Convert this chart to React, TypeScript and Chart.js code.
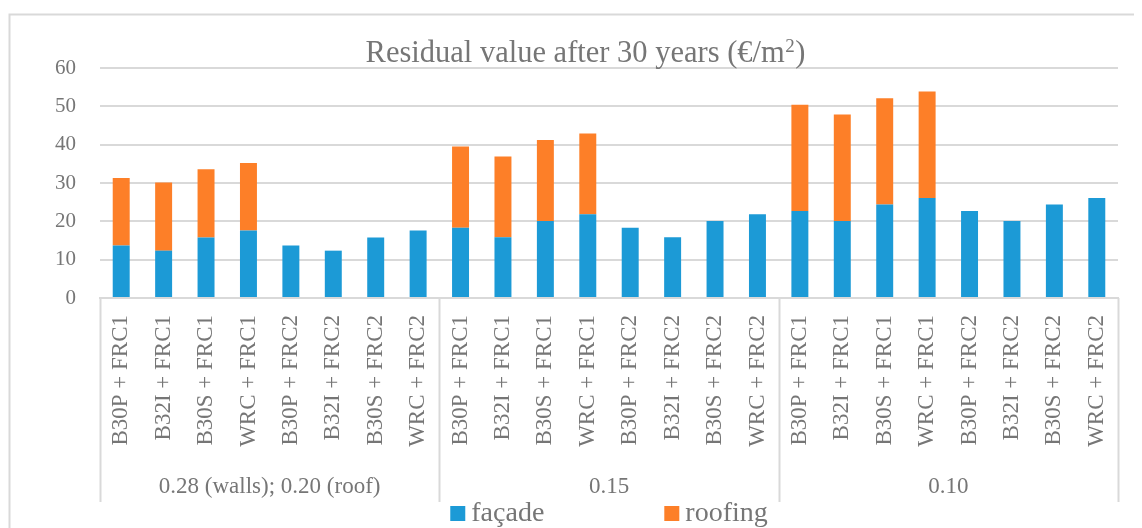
import React, { useEffect, useRef } from "react";
import { Chart, registerables } from "chart.js";

Chart.register(...registerables);

const TITLE_MAIN = "Residual value after 30 years (€/m";
const TITLE_SUP = "2";
const TITLE_END = ")";
const SYSTEMS = [
  "B30P + FRC1", "B32I + FRC1", "B30S + FRC1", "WRC + FRC1",
  "B30P + FRC2", "B32I + FRC2", "B30S + FRC2", "WRC + FRC2",
];
const GROUPS = ["0.28 (walls); 0.20 (roof)", "0.15", "0.10"];
const CATEGORIES = GROUPS.flatMap(() => SYSTEMS);

const FACADE = [
  13.7, 12.35, 15.8, 17.6, 13.7, 12.35, 15.8, 17.6,
  18.35, 15.85, 20.1, 21.85, 18.35, 15.85, 20.1, 21.85,
  22.7, 20.1, 24.4, 26.1, 22.7, 20.1, 24.4, 26.1,
];
const ROOFING = [
  17.6, 17.75, 17.8, 17.6, null, null, null, null,
  21.15, 21.05, 21.1, 21.05, null, null, null, null,
  27.7, 27.8, 27.7, 27.8, null, null, null, null,
];
const SERIES = ["façade", "roofing"];
const COLORS = ["#1c9ad6", "#fd7f28"];
const Y_TICKS = [0, 10, 20, 30, 40, 50, 60];

const FONT = "'Liberation Serif', 'DejaVu Serif', serif";
const TEXT = "#767676";
const LINE = "#d9d9d9";

const decorPlugin = {
  id: "decor",
  afterDraw(chart: any) {
    const { ctx, chartArea, width, height } = chart;
    const x = chart.scales.x;
    ctx.save();
    // outer frame
    ctx.strokeStyle = LINE;
    ctx.lineWidth = 2;
    ctx.beginPath();
    ctx.moveTo(1.5, height);
    ctx.lineTo(1.5, 6.5);
    ctx.lineTo(width, 6.5);
    ctx.stroke();

    // title with superscript
    ctx.fillStyle = TEXT;
    ctx.textAlign = "left";
    ctx.textBaseline = "alphabetic";
    const mainFont = `30.5px ${FONT}`;
    const supFont = `19px ${FONT}`;
    ctx.font = mainFont;
    const wMain = ctx.measureText(TITLE_MAIN).width;
    const wEnd = ctx.measureText(TITLE_END).width;
    ctx.font = supFont;
    const wSup = ctx.measureText(TITLE_SUP).width;
    let tx = 577.5 - (wMain + wSup + 1 + wEnd) / 2;
    const ty = 54;
    ctx.font = mainFont;
    ctx.fillText(TITLE_MAIN, tx, ty);
    tx += wMain + 0.5;
    ctx.font = supFont;
    ctx.fillText(TITLE_SUP, tx, ty - 10);
    tx += wSup + 0.5;
    ctx.font = mainFont;
    ctx.fillText(TITLE_END, tx, ty);

    // group separators and labels
    ctx.textAlign = "center";
    const n = SYSTEMS.length;
    const half = (x.getPixelForValue(1) - x.getPixelForValue(0)) / 2;
    const sepBottom = chartArea.bottom + 204;
    ctx.beginPath();
    for (let g = 0; g <= GROUPS.length; g++) {
      const px = g === 0 ? x.left : g === GROUPS.length ? x.right : x.getPixelForValue(g * n) - half;
      ctx.moveTo(Math.round(px) + 0.5, chartArea.bottom);
      ctx.lineTo(Math.round(px) + 0.5, sepBottom);
    }
    ctx.stroke();
    ctx.font = `23px ${FONT}`;
    GROUPS.forEach((g, i) => {
      const cx = (x.getPixelForValue(i * n) + x.getPixelForValue(i * n + n - 1)) / 2;
      ctx.fillText(g, cx, chartArea.bottom + 195);
    });

    // legend
    ctx.font = `28px ${FONT}`;
    ctx.textAlign = "left";
    const box = 15, gapBox = 6, gapItem = 120;
    const widths = SERIES.map((s) => box + gapBox + ctx.measureText(s).width);
    const total = widths.reduce((a, b) => a + b, 0) + gapItem * (SERIES.length - 1);
    let lx = (chartArea.left + chartArea.right) / 2 - total / 2;
    const base = chartArea.bottom + 223;
    SERIES.forEach((s, i) => {
      ctx.fillStyle = COLORS[i];
      ctx.fillRect(lx, base - 15, box, box);
      ctx.fillStyle = TEXT;
      ctx.fillText(s, lx + box + gapBox, base);
      lx += widths[i] + gapItem;
    });
    ctx.restore();
  },
};

export default function App() {
  const ref = useRef<HTMLCanvasElement>(null);
  useEffect(() => {
    if (!ref.current) return;
    const chart = new Chart(ref.current, {
      type: "bar",
      data: {
        labels: CATEGORIES,
        datasets: [
          { label: SERIES[0], data: FACADE, backgroundColor: COLORS[0], barPercentage: 0.4, categoryPercentage: 1 },
          { label: SERIES[1], data: ROOFING, backgroundColor: COLORS[1], barPercentage: 0.4, categoryPercentage: 1 },
        ],
      },
      options: {
        responsive: false,
        animation: false,
        layout: { padding: { top: 60, right: 24, left: 0, bottom: 0 } },
        plugins: { legend: { display: false }, title: { display: false }, tooltip: { enabled: false } },
        scales: {
          x: {
            stacked: true,
            grid: { display: false, drawTicks: false },
            border: { display: true, color: LINE, width: 2 },
            ticks: {
              autoSkip: false,
              minRotation: 90,
              maxRotation: 90,
              padding: 17,
              color: TEXT,
              font: { family: FONT, size: 23 },
            },
            afterFit: (s: any) => { s.height = 230; },
          },
          y: {
            stacked: true,
            min: Y_TICKS[0],
            max: Y_TICKS[Y_TICKS.length - 1],
            afterBuildTicks: (s: any) => { s.ticks = Y_TICKS.map((v) => ({ value: v })); },
            grid: { color: LINE, lineWidth: 2, drawTicks: false },
            border: { display: false },
            ticks: { padding: 24, color: TEXT, font: { family: FONT, size: 21 } },
            afterFit: (s: any) => { s.width = 92; },
          },
        },
      },
      plugins: [decorPlugin],
    });
    return () => chart.destroy();
  }, []);
  return <canvas ref={ref} width={1134} height={520} style={{ display: "block" }} />;
}
